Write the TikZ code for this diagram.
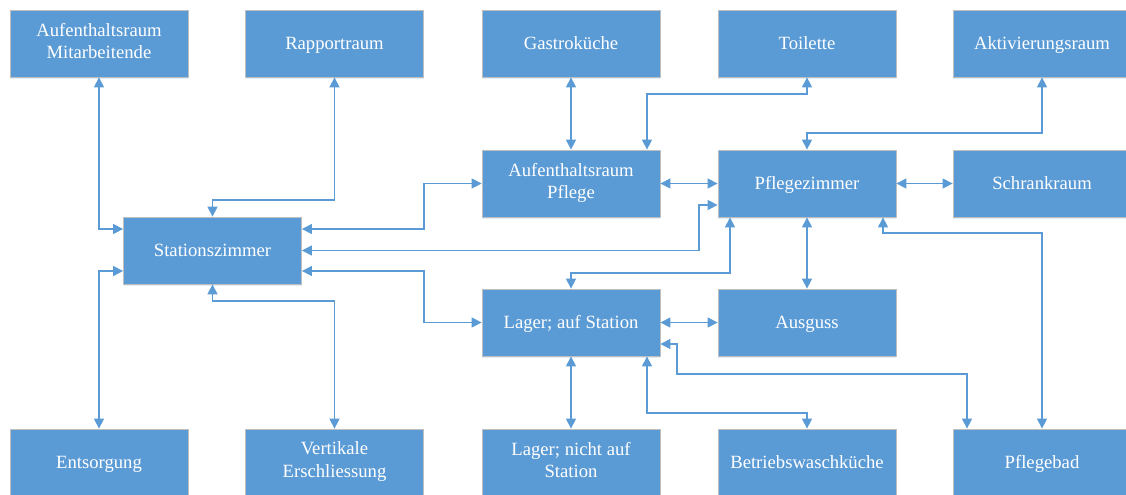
\documentclass[tikz,border=0pt]{standalone}
\usepackage{fontspec}
\setmainfont{Liberation Serif}
\usepackage{tikz}
\usetikzlibrary{arrows.meta,shadows}
\definecolor{roomblue}{HTML}{5B9BD5}
\definecolor{roomedge}{HTML}{BFBFBF}
\newcommand{\roomstrut}{\rule[-4pt]{0pt}{17pt}}

\begin{document}
\begin{tikzpicture}[x=0.75pt,y=0.75pt,yscale=-1,xscale=1,
    room/.style={fill=roomblue,draw=roomedge,line width=0.6pt,text=white,
      minimum width=133.5pt,minimum height=50.25pt,inner sep=0pt,align=center,
      font=\fontsize{14}{17}\selectfont,
      execute at begin node=\roomstrut,execute at end node=\roomstrut,
      drop shadow={shadow xshift=0pt,shadow yshift=-1.5pt,opacity=0.18,fill=roomblue}},
    link/.style={draw=roomblue,line width=1pt,
      {Triangle[length=7.5pt,width=7.5pt]}-{Triangle[length=7.5pt,width=7.5pt]}}]
    \useasboundingbox (0,0) rectangle (1126,494);

    % Text Node
    \node [room] (am) at (99,43.5) {Aufenthaltsraum\\Mitarbeitende};
    % Text Node
    \node [room] (rap) at (334.5,43.5) {Rapportraum};
    % Text Node
    \node [room] (gk) at (571,43.5) {Gastroküche};
    % Text Node
    \node [room] (toi) at (807,43.5) {Toilette};
    % Text Node
    \node [room] (akt) at (1042,43.5) {Aktivierungsraum};
    % Text Node
    \node [room] (stz) at (212.5,250.5) {Stationszimmer};
    % Text Node
    \node [room] (ap) at (571,183.5) {Aufenthaltsraum\\Pflege};
    % Text Node
    \node [room] (pz) at (807,183.5) {Pflegezimmer};
    % Text Node
    \node [room] (sch) at (1042,183.5) {Schrankraum};
    % Text Node
    \node [room] (las) at (571,322.5) {Lager; auf Station};
    % Text Node
    \node [room] (aus) at (807,322.5) {Ausguss};
    % Text Node
    \node [room] (ent) at (99,462.5) {Entsorgung};
    % Text Node
    \node [room] (vert) at (334.5,462.5) {Vertikale\\Erschliessung};
    % Text Node
    \node [room] (lns) at (571,462.5) {Lager; nicht auf\\Station};
    % Text Node
    \node [room] (bwk) at (807,462.5) {Betriebswaschküche};
    % Text Node
    \node [room] (pb) at (1042,462.5) {Pflegebad};

    %Connectors [Stationszimmer]
    \draw [link] (am.south) |- (stz.west |- 0,229);
    \draw [link] (ent.north) |- (stz.west |- 0,271);
    \draw [link] (rap.south) |- (stz.north |- 0,200) -- (stz.north);
    \draw [link] (stz.south) |- (vert.north |- 0,301) -- (vert.north);
    \draw [link] (stz.east |- 0,229) -| (rap.east |- ap.west) -- (ap.west);
    \draw [link] (stz.east) -| (699,205) -- (pz.west |- 0,205);
    \draw [link] (stz.east |- 0,271) -| (rap.east |- las.west) -- (las.west);
    %Connectors [Aufenthaltsraum Pflege]
    \draw [link] (gk.south) -- (ap.north);
    \draw [link] (toi.south) |- (647,94) -- (ap.north -| 647,0);
    \draw [link] (ap.east) -- (pz.west);
    %Connectors [Pflegezimmer]
    \draw [link] (akt.south) |- (pz.north |- 0,133) -- (pz.north);
    \draw [link] (pz.east) -- (sch.west);
    \draw [link] (pz.south) -- (aus.north);
    \draw [link] (pz.south -| 730,0) |- (las.north |- 0,273) -- (las.north);
    \draw [link] (pz.south -| 883,0) |- (pb.north |- 0,233) -- (pb.north);
    %Connectors [Lager; auf Station]
    \draw [link] (las.east) -- (aus.west);
    \draw [link] (las.east |- 0,344) -| (677,374) -| (pb.north -| 967,0);
    \draw [link] (las.south -| 647,0) |- (bwk.north |- 0,413) -- (bwk.north);
    \draw [link] (las.south) -- (lns.north);
\end{tikzpicture}
\end{document}
